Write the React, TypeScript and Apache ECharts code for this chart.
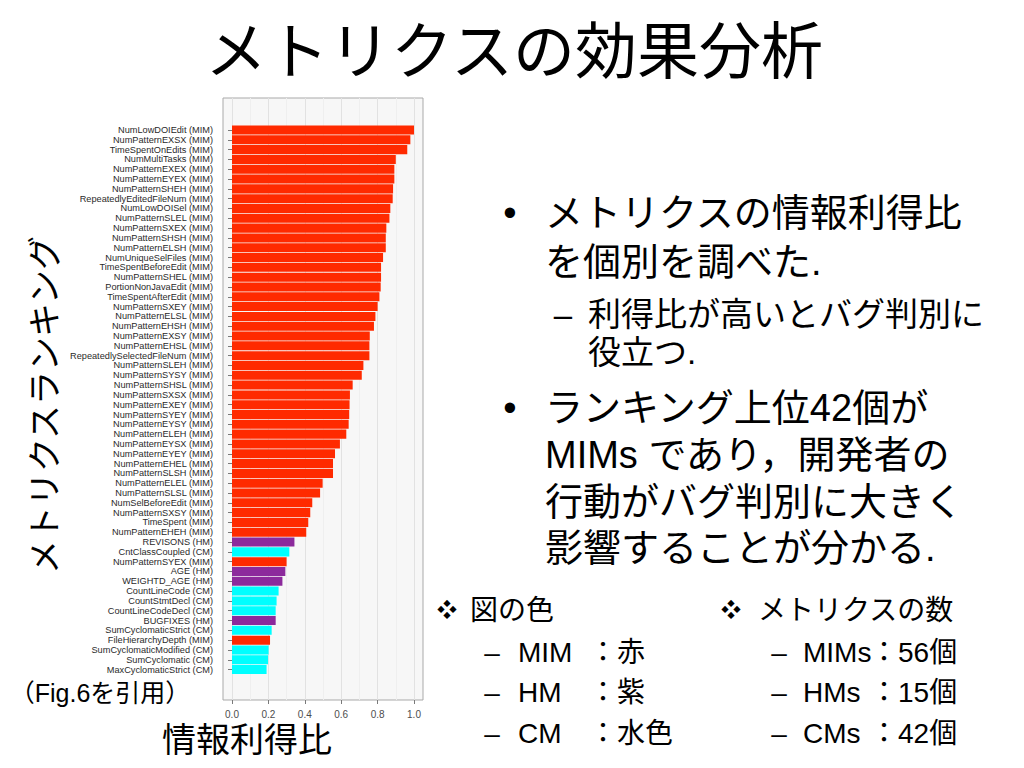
import React, { useEffect, useRef } from "react";
import * as echarts from "echarts";

const metricNames = [
  "NumLowDOIEdit", "NumPatternEXSX", "TimeSpentOnEdits", "NumMultiTasks", "NumPatternEXEX",
  "NumPatternEYEX", "NumPatternSHEH", "RepeatedlyEditedFileNum", "NumLowDOISel", "NumPatternSLEL",
  "NumPatternSXEX", "NumPatternSHSH", "NumPatternELSH", "NumUniqueSelFiles", "TimeSpentBeforeEdit",
  "NumPatternSHEL", "PortionNonJavaEdit", "TimeSpentAfterEdit", "NumPatternSXEY", "NumPatternELSL",
  "NumPatternEHSH", "NumPatternEXSY", "NumPatternEHSL", "RepeatedlySelectedFileNum", "NumPatternSLEH",
  "NumPatternSYSY", "NumPatternSHSL", "NumPatternSXSX", "NumPatternEXEY", "NumPatternSYEY",
  "NumPatternEYSY", "NumPatternELEH", "NumPatternEYSX", "NumPatternEYEY", "NumPatternEHEL",
  "NumPatternSLSH", "NumPatternELEL", "NumPatternSLSL", "NumSelBeforeEdit", "NumPatternSXSY",
  "TimeSpent", "NumPatternEHEH", "REVISONS", "CntClassCoupled", "NumPatternSYEX",
  "AGE", "WEIGHTD_AGE", "CountLineCode", "CountStmtDecl", "CountLineCodeDecl",
  "BUGFIXES", "SumCyclomaticStrict", "FileHierarchyDepth", "SumCyclomaticModified", "SumCyclomatic",
  "MaxCyclomaticStrict",
];

const metricTypes = [
  "MIM", "MIM", "MIM", "MIM", "MIM", "MIM", "MIM", "MIM", "MIM", "MIM",
  "MIM", "MIM", "MIM", "MIM", "MIM", "MIM", "MIM", "MIM", "MIM", "MIM",
  "MIM", "MIM", "MIM", "MIM", "MIM", "MIM", "MIM", "MIM", "MIM", "MIM",
  "MIM", "MIM", "MIM", "MIM", "MIM", "MIM", "MIM", "MIM", "MIM", "MIM",
  "MIM", "MIM", "HM", "CM", "MIM", "HM", "HM", "CM", "CM", "CM",
  "HM", "CM", "MIM", "CM", "CM", "CM",
];

const gainRatio = [
  1.0, 0.98, 0.963, 0.9, 0.892, 0.892, 0.885, 0.883, 0.87, 0.865,
  0.848, 0.845, 0.845, 0.83, 0.819, 0.819, 0.817, 0.81, 0.8, 0.788,
  0.78, 0.757, 0.755, 0.755, 0.722, 0.713, 0.663, 0.648, 0.646, 0.644,
  0.641, 0.628, 0.593, 0.566, 0.555, 0.555, 0.498, 0.484, 0.441, 0.43,
  0.419, 0.408, 0.343, 0.315, 0.3, 0.293, 0.277, 0.256, 0.245, 0.24,
  0.24, 0.218, 0.209, 0.201, 0.198, 0.19,
];

const typeColors: Record<string, string> = {
  MIM: "#ff2a00",
  HM: "#8c2a9c",
  CM: "#00ffff",
};

const titleText = "メトリクスの効果分析";
const yTitle = "メトリクスランキング";
const xTitle = "情報利得比";
const sourceNote = "（Fig.6を引用）";

const bulletLines = [
  { mark: "•", text: "メトリクスの情報利得比", y: 213, size: 38, markX: 510, x: 545 },
  { mark: "", text: "を個別を調べた.", y: 262, size: 38, markX: 510, x: 545 },
  { mark: "–", text: "利得比が高いとバグ判別に", y: 314, size: 33, markX: 563, x: 588 },
  { mark: "", text: "役立つ.", y: 352, size: 33, markX: 563, x: 588 },
  { mark: "•", text: "ランキング上位42個が", y: 408, size: 38, markX: 510, x: 545 },
  { mark: "", text: "MIMs であり，開発者の", y: 455, size: 38, markX: 510, x: 545 },
  { mark: "", text: "行動がバグ判別に大きく", y: 502, size: 38, markX: 510, x: 545 },
  { mark: "", text: "影響することが分かる.", y: 548, size: 38, markX: 510, x: 545 },
];

const colorLegend = [
  { label: "MIM", value: "：赤" },
  { label: "HM", value: "：紫" },
  { label: "CM", value: "：水色" },
];
const countLegend = [
  { label: "MIMs", value: "：56個" },
  { label: "HMs", value: "：15個" },
  { label: "CMs", value: "：42個" },
];
const legendRowsY = [652, 692, 733];

const FONT = '"Liberation Sans", "Noto Sans CJK JP", sans-serif';

export default function App() {
  const ref = useRef<HTMLDivElement>(null);
  useEffect(() => {
    if (!ref.current) return;
    const chart = echarts.init(ref.current, undefined, { renderer: "svg" });
    const labels = metricNames.map((n, i) => `${n} (${metricTypes[i]})`);
    const data = gainRatio.map((v, i) => ({
      value: v,
      itemStyle: { color: typeColors[metricTypes[i]] },
    }));

    const txt = (text: string, x: number, y: number, size: number, align = "left", extra: any = {}) => ({
      type: "text",
      x,
      y,
      silent: true,
      ...extra,
      style: {
        text,
        fontSize: size,
        fontFamily: FONT,
        fill: "#000",
        align,
        verticalAlign: "middle",
      },
    });

    const graphics: any[] = [
      txt(titleText, 514, 52, 62, "center"),
      txt(yTitle, 45, 405, 34, "center", { rotation: Math.PI / 2 }),
      txt(xTitle, 247, 740, 34, "center"),
      txt(sourceNote, 100, 693, 25, "center"),
    ];
    bulletLines.forEach((b) => {
      if (b.mark) graphics.push(txt(b.mark, b.markX, b.y, b.size, "center"));
      graphics.push(txt(b.text, b.x, b.y, b.size));
    });
    graphics.push(txt("❖", 447, 610, 20, "center"));
    graphics.push(txt("図の色", 470, 610, 28));
    graphics.push(txt("❖", 731, 610, 20, "center"));
    graphics.push(txt("メトリクスの数", 758, 610, 28));
    colorLegend.forEach((r, i) => {
      graphics.push(txt("–", 492, legendRowsY[i], 28, "center"));
      graphics.push(txt(r.label, 518, legendRowsY[i], 28));
      graphics.push(txt(r.value, 589, legendRowsY[i], 28));
    });
    countLegend.forEach((r, i) => {
      graphics.push(txt("–", 779, legendRowsY[i], 28, "center"));
      graphics.push(txt(r.label, 803, legendRowsY[i], 28));
      graphics.push(txt(r.value, 870, legendRowsY[i], 28));
    });

    chart.setOption({
      animation: false,
      backgroundColor: "#ffffff",
      grid: [
        {
          left: 223, top: 98, width: 200, height: 602,
          show: true, backgroundColor: "#f7f7f7", borderColor: "#a9a9a9", borderWidth: 1,
        },
        { left: 232, top: 98, width: 182, height: 602 },
        { left: 232, top: 125.1, width: 182, height: 549.4 },
      ],
      xAxis: [
        { gridIndex: 0, type: "value", min: 0, max: 1, show: false },
        {
          gridIndex: 1, type: "value", min: 0, max: 1, interval: 0.2,
          axisLine: { show: false },
          axisTick: { show: true, length: 4, lineStyle: { color: "#7a7a7a" } },
          axisLabel: {
            formatter: (v: number) => v.toFixed(1),
            fontSize: 10, color: "#4d4d4d", margin: 9, fontFamily: FONT,
          },
          splitLine: { show: true, lineStyle: { color: "#e2e2e2", width: 1 } },
          minorTick: { show: false, splitNumber: 2 },
          minorSplitLine: { show: true, lineStyle: { color: "#efefef", width: 1 } },
        },
        { gridIndex: 2, type: "value", min: 0, max: 1, show: false },
      ],
      yAxis: [
        { gridIndex: 0, type: "value", show: false },
        { gridIndex: 1, type: "value", show: false },
        {
          gridIndex: 2, type: "category", data: labels, inverse: true, offset: 9,
          axisLine: { show: false },
          axisTick: { show: true, length: 4, alignWithLabel: true, lineStyle: { color: "#7a7a7a" } },
          axisLabel: { interval: 0, fontSize: 9.2, color: "#2a2a2a", margin: 10, fontFamily: FONT },
          splitLine: { show: false },
        },
      ],
      series: [
        {
          type: "bar",
          xAxisIndex: 2,
          yAxisIndex: 2,
          data,
          barCategoryGap: "8%",
          silent: true,
        },
      ],
      graphic: graphics,
    });
    return () => chart.dispose();
  }, []);
  return (
    <div
      ref={ref}
      style={{ position: "fixed", left: 0, top: 0, width: 1024, height: 768, background: "#fff" }}
    />
  );
}
